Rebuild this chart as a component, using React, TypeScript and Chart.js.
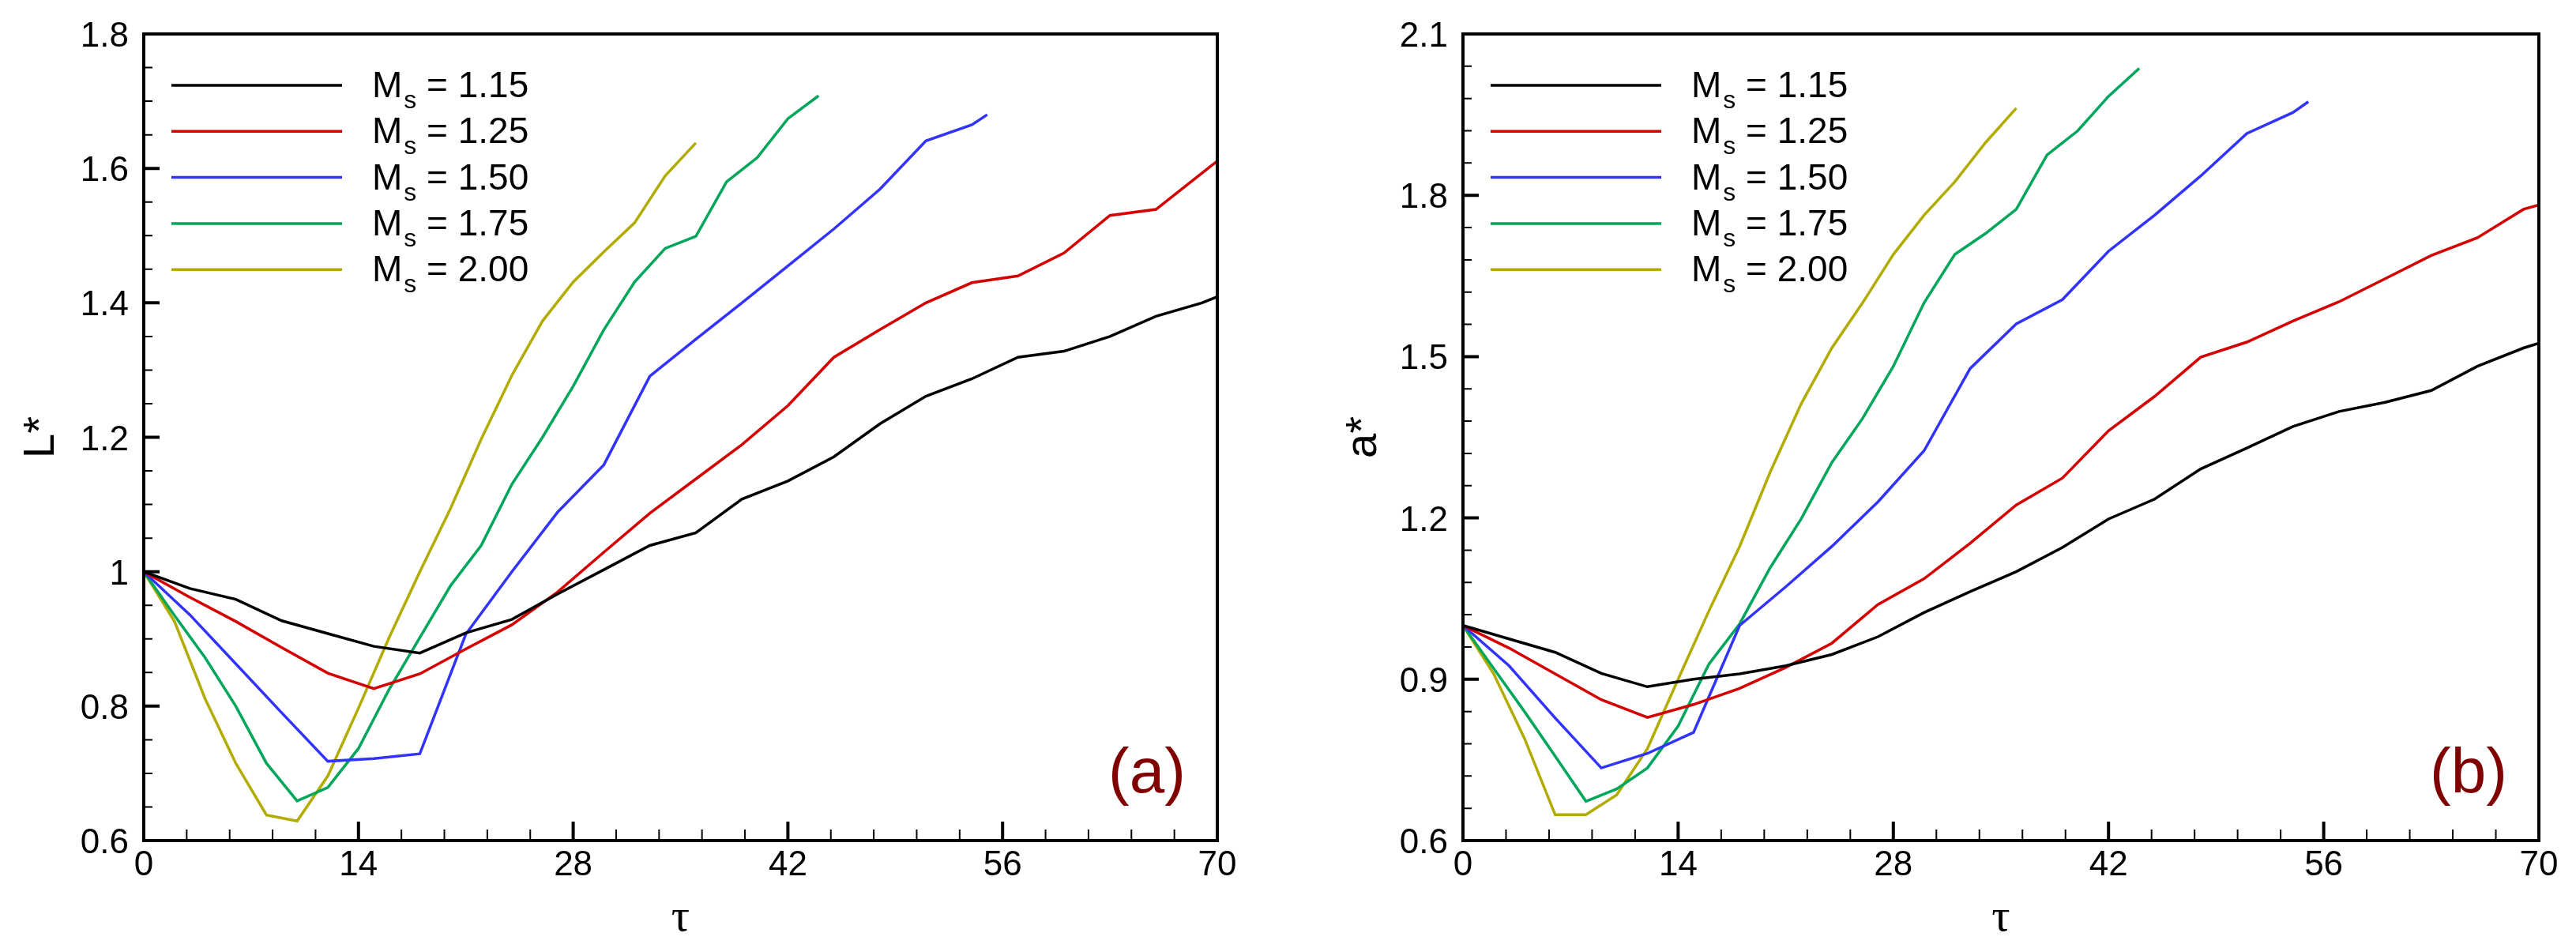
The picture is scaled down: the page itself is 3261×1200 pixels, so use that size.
import { useEffect, useRef } from 'react';
import { Chart, registerables } from 'chart.js';

Chart.register(...registerables);

// Shock Mach numbers and their line colours
const machLabels = ['1.15', '1.25', '1.50', '1.75', '2.00'];
const seriesColors = ['#000000', '#d40000', '#3333ff', '#00a65a', '#b3ac00'];

// time samples of each series
const tauCoarse = [0, 3, 6, 9, 12, 15, 18, 21, 24, 27, 30, 33, 36, 39, 42, 45, 48, 51, 54, 57, 60, 63, 66, 69, 70];
const tauBlue = [0, 3, 6, 9, 12, 15, 18, 21, 24, 27, 30, 33, 36, 39, 42, 45, 48, 51, 54, 55];
const tauFine44 = [0, 2, 4, 6, 8, 10, 12, 14, 16, 18, 20, 22, 24, 26, 28, 30, 32, 34, 36, 38, 40, 42, 44];
const tauFine36 = [0, 2, 4, 6, 8, 10, 12, 14, 16, 18, 20, 22, 24, 26, 28, 30, 32, 34, 36];

// (a) L*
const lStar115 = [1.0, 0.975, 0.959, 0.927, 0.908, 0.889, 0.879, 0.909, 0.929, 0.967, 1.003, 1.039, 1.058, 1.108, 1.135, 1.171, 1.22, 1.261, 1.287, 1.319, 1.328, 1.35, 1.38, 1.4, 1.409];
const lStar125 = [1.0, 0.962, 0.926, 0.887, 0.849, 0.826, 0.848, 0.885, 0.921, 0.97, 1.029, 1.087, 1.138, 1.189, 1.247, 1.319, 1.36, 1.4, 1.43, 1.44, 1.474, 1.53, 1.539, 1.593, 1.611];
const lStar150 = [1.0, 0.936, 0.863, 0.79, 0.718, 0.722, 0.729, 0.907, 1.0, 1.089, 1.159, 1.291, 1.346, 1.4, 1.455, 1.51, 1.569, 1.641, 1.665, 1.68];
const lStar175 = [1.0, 0.935, 0.872, 0.8, 0.715, 0.659, 0.679, 0.737, 0.825, 0.902, 0.979, 1.039, 1.13, 1.2, 1.276, 1.36, 1.431, 1.481, 1.499, 1.58, 1.616, 1.674, 1.708];
const lStar200 = [1.0, 0.926, 0.811, 0.715, 0.638, 0.629, 0.696, 0.797, 0.902, 1.0, 1.094, 1.197, 1.292, 1.373, 1.431, 1.476, 1.519, 1.589, 1.638];

// (b) a*
const aStar115 = [1.0, 0.975, 0.95, 0.911, 0.886, 0.9, 0.91, 0.925, 0.946, 0.979, 1.024, 1.063, 1.1, 1.145, 1.198, 1.235, 1.291, 1.33, 1.37, 1.398, 1.415, 1.437, 1.482, 1.516, 1.525];
const aStar125 = [1.0, 0.958, 0.91, 0.862, 0.829, 0.853, 0.883, 0.922, 0.967, 1.039, 1.087, 1.153, 1.224, 1.274, 1.362, 1.426, 1.499, 1.527, 1.566, 1.602, 1.645, 1.688, 1.721, 1.774, 1.782];
const aStar150 = [1.0, 0.925, 0.828, 0.735, 0.762, 0.801, 1.0, 1.072, 1.147, 1.23, 1.325, 1.478, 1.561, 1.606, 1.696, 1.763, 1.836, 1.915, 1.954, 1.974];
const aStar175 = [1.0, 0.92, 0.84, 0.757, 0.673, 0.696, 0.735, 0.813, 0.928, 1.003, 1.108, 1.198, 1.303, 1.385, 1.482, 1.6, 1.69, 1.729, 1.774, 1.875, 1.92, 1.984, 2.036];
const aStar200 = [1.0, 0.91, 0.79, 0.648, 0.648, 0.685, 0.771, 0.9, 1.027, 1.147, 1.286, 1.412, 1.516, 1.6, 1.69, 1.763, 1.825, 1.898, 1.962];

// axis ticks
const xTicks = [0, 14, 28, 42, 56, 70];
const yTicksA = [0.6, 0.8, 1, 1.2, 1.4, 1.6, 1.8];
const yTicksB = [0.6, 0.9, 1.2, 1.5, 1.8, 2.1];

const tauSets = [tauCoarse, tauCoarse, tauBlue, tauFine44, tauFine36];

const SANS = '"Liberation Sans", Arial, sans-serif';

type PanelProps = {
  width: number;
  left: number;
  right: number;
  values: number[][];
  yTicks: number[];
  yMinorStep: number;
  yTitle: string;
  titleX: number;
  tag: string;
};

const fmt = (v: number) => String(Number(v.toFixed(2)));

const decorPlugin = {
  id: 'decor',
  afterDatasetsDraw(chart: any, _args: any, opts: any) {
    const { ctx, chartArea: a } = chart;
    const xs = chart.scales.x;
    const ys = chart.scales.y;
    ctx.save();
    ctx.strokeStyle = '#000';
    ctx.fillStyle = '#000';

    // minor ticks
    ctx.lineWidth = 2;
    ctx.beginPath();
    for (let v = xs.min; v <= xs.max + 1e-6; v += 2.8) {
      const px = xs.getPixelForValue(v);
      ctx.moveTo(px, a.bottom);
      ctx.lineTo(px, a.bottom - 14);
    }
    for (let v = ys.min; v <= ys.max + 1e-6; v += opts.yMinorStep) {
      const py = ys.getPixelForValue(v);
      ctx.moveTo(a.left, py);
      ctx.lineTo(a.left + 11, py);
    }
    ctx.stroke();

    // major ticks
    ctx.lineWidth = 4;
    ctx.beginPath();
    xs.ticks.forEach((t: any) => {
      const px = xs.getPixelForValue(t.value);
      ctx.moveTo(px, a.bottom);
      ctx.lineTo(px, a.bottom - 24);
    });
    ys.ticks.forEach((t: any) => {
      const py = ys.getPixelForValue(t.value);
      ctx.moveTo(a.left, py);
      ctx.lineTo(a.left + 20, py);
    });
    ctx.stroke();

    // frame
    ctx.lineWidth = 4;
    ctx.strokeRect(a.left, a.top, a.right - a.left, a.bottom - a.top);

    // tick labels
    ctx.font = `44px ${SANS}`;
    ctx.textBaseline = 'alphabetic';
    ctx.textAlign = 'center';
    xs.ticks.forEach((t: any) => {
      ctx.fillText(fmt(t.value), xs.getPixelForValue(t.value), a.bottom + 44);
    });
    ctx.textAlign = 'right';
    ys.ticks.forEach((t: any) => {
      ctx.fillText(fmt(t.value), a.left - 19, ys.getPixelForValue(t.value) + 16);
    });

    // axis titles
    ctx.textAlign = 'center';
    ctx.font = `58px "Liberation Serif", "DejaVu Serif", serif`;
    ctx.fillText('τ', (a.left + a.right) / 2, a.bottom + 114);
    ctx.save();
    ctx.translate(opts.titleX, (a.top + a.bottom) / 2);
    ctx.rotate(-Math.PI / 2);
    ctx.font = `56px ${SANS}`;
    ctx.fillText(opts.yTitle, 0, 0);
    ctx.restore();

    // panel tag
    ctx.fillStyle = '#800000';
    ctx.font = `80px ${SANS}`;
    ctx.fillText(opts.tag, a.right - 89, a.bottom - 61);

    // legend
    chart.data.datasets.forEach((ds: any, i: number) => {
      const y = a.top + 65 + i * 58.3;
      ctx.strokeStyle = ds.borderColor;
      ctx.lineWidth = 3.5;
      ctx.beginPath();
      ctx.moveTo(a.left + 35, y);
      ctx.lineTo(a.left + 251, y);
      ctx.stroke();
      ctx.fillStyle = '#000';
      ctx.textAlign = 'left';
      let x = a.left + 289;
      ctx.font = `46px ${SANS}`;
      ctx.fillText('M', x, y + 15);
      x += ctx.measureText('M').width + 2;
      ctx.font = `32px ${SANS}`;
      ctx.fillText('s', x, y + 29);
      x += ctx.measureText('s').width;
      ctx.font = `46px ${SANS}`;
      ctx.fillText(' = ' + ds.label, x, y + 15);
    });
    ctx.restore();
  },
};

function Panel({ width, left, right, values, yTicks, yMinorStep, yTitle, titleX, tag }: PanelProps) {
  const canvasRef = useRef<HTMLCanvasElement>(null);

  useEffect(() => {
    if (!canvasRef.current) return;
    const chart = new Chart(canvasRef.current, {
      type: 'line',
      data: {
        datasets: values.map((vals, i) => ({
          label: machLabels[i],
          data: vals.map((v, j) => ({ x: tauSets[i][j], y: v })),
          borderColor: seriesColors[i],
          borderWidth: 3.5,
          pointRadius: 0,
          tension: 0,
          fill: false,
        })),
      },
      options: {
        responsive: false,
        animation: false,
        devicePixelRatio: 1,
        layout: { padding: { left, right: width - right, top: 43, bottom: 1200 - 1064 } },
        plugins: {
          legend: { display: false },
          tooltip: { enabled: false },
          decor: { yMinorStep, yTitle, titleX, tag },
        } as any,
        scales: {
          x: {
            type: 'linear',
            display: false,
            min: xTicks[0],
            max: xTicks[xTicks.length - 1],
            afterBuildTicks: (s: any) => { s.ticks = xTicks.map((v) => ({ value: v })); },
          },
          y: {
            type: 'linear',
            display: false,
            min: yTicks[0],
            max: yTicks[yTicks.length - 1],
            afterBuildTicks: (s: any) => { s.ticks = yTicks.map((v) => ({ value: v })); },
          },
        },
      },
      plugins: [decorPlugin],
    });
    return () => chart.destroy();
  }, []);

  return <canvas ref={canvasRef} width={width} height={1200} style={{ display: 'block', width, height: 1200 }} />;
}

export default function App() {
  return (
    <div style={{ position: 'absolute', left: 0, top: 0, width: 3261, height: 1200, display: 'flex', background: '#fff' }}>
      <Panel
        width={1630}
        left={182}
        right={1541}
        values={[lStar115, lStar125, lStar150, lStar175, lStar200]}
        yTicks={yTicksA}
        yMinorStep={0.05}
        yTitle="L*"
        titleX={68}
        tag="(a)"
      />
      <Panel
        width={1631}
        left={222}
        right={1584}
        values={[aStar115, aStar125, aStar150, aStar175, aStar200]}
        yTicks={yTicksB}
        yMinorStep={0.06}
        yTitle="a*"
        titleX={112}
        tag="(b)"
      />
    </div>
  );
}
